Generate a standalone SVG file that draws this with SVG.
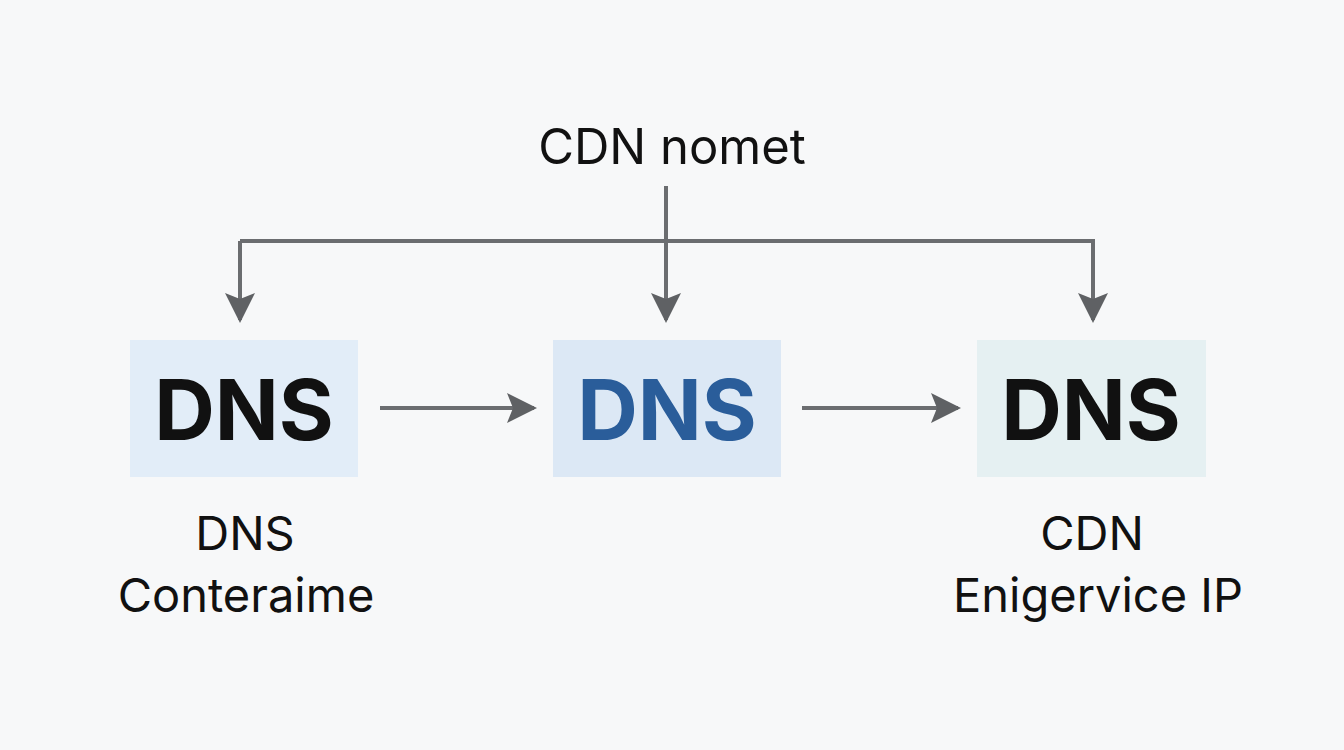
<svg xmlns="http://www.w3.org/2000/svg" width="1344" height="750" viewBox="0 0 1344 750">
<style>
.ln{stroke:#6b6d70;stroke-width:4;fill:none}
.t{font-family:"Inter","Liberation Sans",sans-serif;fill:#111;text-anchor:middle}
.big{font-size:84px;font-weight:700}
.lab{font-size:47px}
</style>
<defs>
<marker id="ah" viewBox="0 0 10 10" refX="9" refY="5" markerWidth="30" markerHeight="34" orient="auto" markerUnits="userSpaceOnUse">
<path d="M0,0 L10,5 L0,10 L2,5 z" fill="#5f6164"/>
</marker>
</defs>
<rect width="1344" height="750" fill="#f7f8f9"/>
<g id="title"><text class="t lab" x="672" y="164" style="font-size:49px">CDN nomet</text></g>
<g id="connectors">
<path class="ln" d="M666,186 V320" marker-end="url(#ah)"/>
<path class="ln" d="M240,241 H1093 V320" marker-end="url(#ah)"/>
<path class="ln" d="M240,241 V320" marker-end="url(#ah)"/>
<path class="ln" d="M380,408 H534" marker-end="url(#ah)"/>
<path class="ln" d="M802,408 H958" marker-end="url(#ah)"/>
</g>
<g id="n1"><rect x="130" y="340" width="228" height="137" fill="#e2edf8"/><text class="t big" x="244" y="440">DNS</text>
<text class="t lab" x="245" y="550">DNS</text><text class="t lab" x="246" y="612">Conteraime</text></g>
<g id="n2"><rect x="553" y="340" width="228" height="137" fill="#dce8f5"/><text class="t big" x="667" y="440" style="fill:#2a5d9a">DNS</text></g>
<g id="n3"><rect x="977" y="340" width="229" height="137" fill="#e5f0f2"/><text class="t big" x="1091" y="440">DNS</text>
<text class="t lab" x="1092" y="550">CDN</text><text class="t lab" x="1098" y="612">Enigervice IP</text></g>
</svg>
